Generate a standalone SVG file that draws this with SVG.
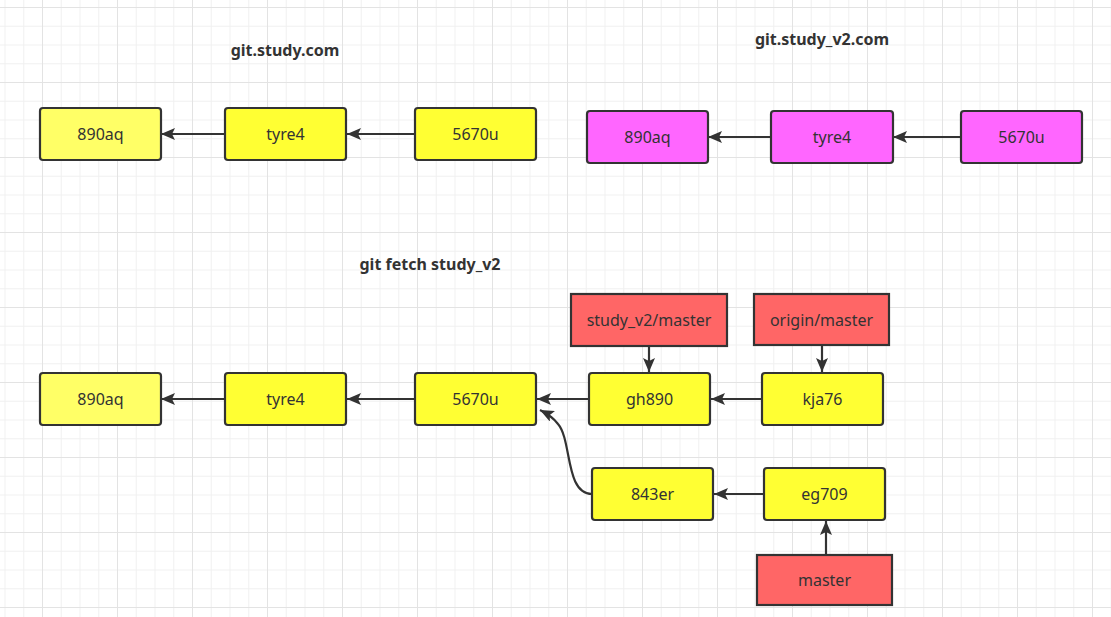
<svg xmlns="http://www.w3.org/2000/svg" width="1111" height="617" viewBox="0 0 1111 617">
<style>
.n rect{stroke:#333;stroke-width:2.2}
.y rect{fill:#ffff33}
.ly rect{fill:#ffff66}
.p rect{fill:#ff66ff}
.r rect{fill:#ff6666}
text{font-family:"Noto Sans","Open Sans","Liberation Sans",sans-serif;font-size:16px;fill:#333;text-anchor:middle;dominant-baseline:central}
.t{font-weight:bold;font-size:16px}
#edges path{fill:none;stroke:#333;stroke-width:2.2;marker-end:url(#ah)}
</style>
<defs>
<marker id="ah" viewBox="0 0 14 12" refX="14" refY="6" markerWidth="14" markerHeight="12" markerUnits="userSpaceOnUse" orient="auto">
<path d="M0,0 L14,6 L0,12 L3,6 Z" fill="#333"/>
</marker>
<pattern id="grid" x="42" y="7" width="75" height="75" patternUnits="userSpaceOnUse">
<rect x="0" y="0" width="75" height="75" fill="#fff"/>
<rect x="18.75" y="0" width="1" height="75" fill="#f1f1f1"/>
<rect x="37.5" y="0" width="1" height="75" fill="#f1f1f1"/>
<rect x="56.25" y="0" width="1" height="75" fill="#f1f1f1"/>
<rect x="0" y="18.75" width="75" height="1" fill="#f1f1f1"/>
<rect x="0" y="37.5" width="75" height="1" fill="#f1f1f1"/>
<rect x="0" y="56.25" width="75" height="1" fill="#f1f1f1"/>
<rect x="0" y="0" width="1" height="75" fill="#e3e3e3"/>
<rect x="0" y="0" width="75" height="1" fill="#e3e3e3"/>
</pattern>
</defs>
<rect width="1111" height="617" fill="url(#grid)"/>

<g id="titles">
<text class="t" x="285" y="50">git.study.com</text>
<text class="t" x="822" y="39">git.study_v2.com</text>
<text class="t" x="430" y="264">git fetch study_v2</text>
</g>

<g id="edges">
<path d="M225,134 L161,134"/>
<path d="M415,134 L347,134"/>
<path d="M771,137 L708,137"/>
<path d="M961,137 L893,137"/>
<path d="M225,399 L161,399"/>
<path d="M415,399 L347,399"/>
<path d="M589,399 L537,399"/>
<path d="M762,399 L711,399"/>
<path d="M649,347 L649,372"/>
<path d="M822,345 L822,372"/>
<path d="M764,494 L714,494"/>
<path d="M826,555 L826,521"/>
<path d="M592,494 C565,494 572,440 558,424 Q552,416 540,410"/>
</g>

<g id="a_890aq" class="n ly"><rect x="40" y="108" width="121" height="52" rx="3"/><text x="100.5" y="134">890aq</text></g>
<g id="a_tyre4" class="n y"><rect x="225" y="108" width="121" height="52" rx="3"/><text x="285.5" y="134">tyre4</text></g>
<g id="a_5670u" class="n y"><rect x="415" y="108" width="121" height="52" rx="3"/><text x="475.5" y="134">5670u</text></g>

<g id="b_890aq" class="n p"><rect x="587" y="111" width="121" height="52" rx="3"/><text x="647.5" y="137">890aq</text></g>
<g id="b_tyre4" class="n p"><rect x="771" y="111" width="122" height="52" rx="3"/><text x="832" y="137">tyre4</text></g>
<g id="b_5670u" class="n p"><rect x="961" y="111" width="121" height="52" rx="3"/><text x="1021.5" y="137">5670u</text></g>

<g id="c_890aq" class="n ly"><rect x="40" y="373" width="121" height="52" rx="3"/><text x="100.5" y="399">890aq</text></g>
<g id="c_tyre4" class="n y"><rect x="225" y="373" width="121" height="52" rx="3"/><text x="285.5" y="399">tyre4</text></g>
<g id="c_5670u" class="n y"><rect x="415" y="373" width="121" height="52" rx="3"/><text x="475.5" y="399">5670u</text></g>
<g id="c_gh890" class="n y"><rect x="589" y="373" width="121" height="52" rx="3"/><text x="649.5" y="399">gh890</text></g>
<g id="c_kja76" class="n y"><rect x="762" y="373" width="121" height="52" rx="3"/><text x="822.5" y="399">kja76</text></g>
<g id="c_843er" class="n y"><rect x="592" y="468" width="121" height="52" rx="3"/><text x="652.5" y="494">843er</text></g>
<g id="c_eg709" class="n y"><rect x="764" y="468" width="121" height="52" rx="3"/><text x="824.5" y="494">eg709</text></g>

<g id="r_study_v2_master" class="n r"><rect x="571" y="294" width="156" height="52"/><text x="649" y="320">study_v2/master</text></g>
<g id="r_origin_master" class="n r"><rect x="754" y="294" width="135" height="51"/><text x="821.5" y="319.5">origin/master</text></g>
<g id="r_master" class="n r"><rect x="757" y="555" width="135" height="50"/><text x="824.5" y="580">master</text></g>
</svg>
